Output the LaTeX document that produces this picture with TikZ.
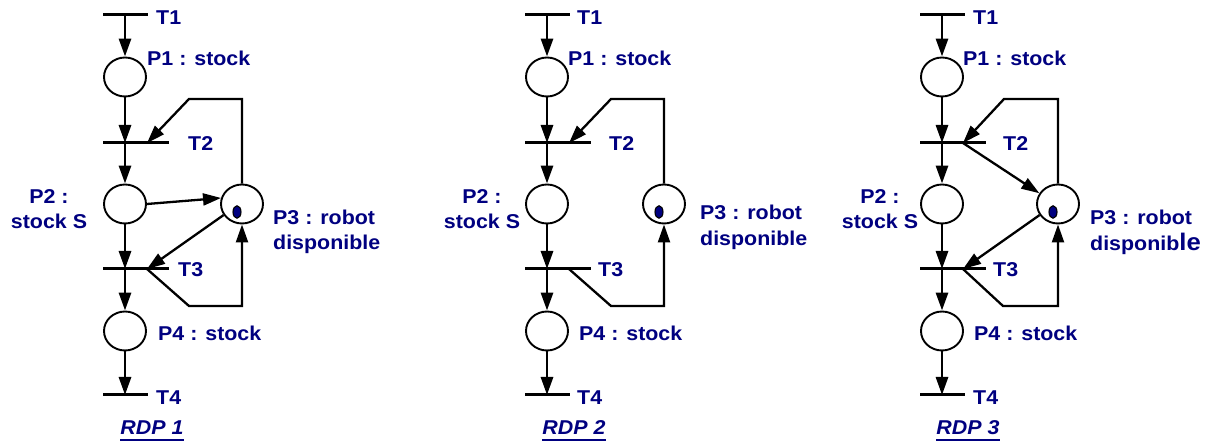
\documentclass[tikz,border=0pt]{standalone}
\usepackage{fontspec}
\setmainfont{Liberation Sans}[FakeStretch=1.07]
\usetikzlibrary{arrows.meta,shapes.geometric}
\definecolor{rdpblue}{RGB}{0,0,128}
\newcommand\lbfont{\fontsize{20}{25}\selectfont\bfseries}
\tikzset{
  place/.style={ellipse, draw, line width=1.9pt, minimum width=42pt, minimum height=39pt, inner sep=0pt},
  token/.style={ellipse, draw=black, line width=1.1pt, fill=rdpblue, minimum width=8pt, minimum height=12.5pt, inner sep=0pt},
  trans/.style={rectangle, fill=black, minimum height=3pt, inner sep=0pt},
  arr/.style={line width=2.9pt, -{Triangle[length=18pt,width=12pt]}},
  sarr/.style={line width=2.3pt, -{Triangle[length=18pt,width=12pt]}},
  lbl/.style={text=rdpblue, font=\lbfont, inner sep=0pt},
  uline/.style={draw=rdpblue, line width=1.8pt}
}
\begin{document}
\begin{tikzpicture}[x=1pt,y=-1pt]
\useasboundingbox (0,0) rectangle (1210,443);

% ---------------- RDP 1 ----------------
\begin{scope}[xshift=125pt]
\node[trans, minimum width=45pt] (aT1) at (0,15) {};
\node[trans, minimum width=66pt] (aT2) at (11,143) {};
\node[trans, minimum width=66pt] (aT3) at (11,269) {};
\node[trans, minimum width=45pt] (aT4) at (0,395) {};
\node[place] (aP1) at (0,77) {};
\node[place] (aP2) at (0,204) {};
\node[place] (aP4) at (0,331) {};
\node[place] (aP3) at (117,204) {};
\node[token] (aK) at (112,212) {};
\coordinate (aJ2) at (22,143);
\coordinate (aJ3) at (22,269);
\coordinate (aU) at (64,99);
\coordinate (aD) at (64,306);
\draw[arr] (aT1.center) -- (aP1);
\draw[arr] (aP1) -- (aP1 |- aT2.center);
\draw[arr] (aP1 |- aT2.center) -- (aP2);
\draw[arr] (aP2) -- (aP2 |- aT3.center);
\draw[arr] (aP2 |- aT3.center) -- (aP4);
\draw[arr] (aP4) -- (aP4 |- aT4.center);
\draw[sarr] (aP3.north) |- (aU) -- (aJ2);
\draw[sarr] (aP2.east) -- (aP3.164);
\draw[sarr] (aP3.211) -- (aJ3);
\draw[sarr] (aJ3) -- (aD) -| (aP3.south);
\node[lbl, anchor=base west] (aL1) at (31,25) {T1};
\node[lbl, anchor=base west] (aL2) at (63,151) {T2};
\node[lbl, anchor=base west] (aL3) at (53,277) {T3};
\node[lbl, anchor=base west] (aL4) at (31,404) {T4};
\node[lbl, anchor=base west] (aN1) at (22,66) {P1 : stock};
\node[lbl, anchor=base west] (aN4) at (33,341) {P4 : stock};
\node[lbl, anchor=base] (aN2a) at (-76,204) {P2 :};
\node[lbl, anchor=base] (aN2b) at (-76,229) {stock S};
\node[lbl, anchor=base west] (aN3a) at (148,225) {P3 : robot};
\node[lbl, anchor=base west] (aN3b) at (148,250) {disponible};
\node[lbl, anchor=base] (aR) at (27,435) {\itshape RDP 1};
\draw[uline] ([yshift=-5pt]aR.base west) -- ([yshift=-5pt]aR.base east);
\end{scope}

% ---------------- RDP 2 ----------------
\begin{scope}[xshift=547pt]
\node[trans, minimum width=45pt] (bT1) at (0,15) {};
\node[trans, minimum width=66pt] (bT2) at (11,143) {};
\node[trans, minimum width=66pt] (bT3) at (11,269) {};
\node[trans, minimum width=45pt] (bT4) at (0,395) {};
\node[place] (bP1) at (0,77) {};
\node[place] (bP2) at (0,204) {};
\node[place] (bP4) at (0,331) {};
\node[place] (bP3) at (117,204) {};
\node[token] (bK) at (112,212) {};
\coordinate (bJ2) at (22,143);
\coordinate (bJ3) at (22,269);
\coordinate (bU) at (64,99);
\coordinate (bD) at (64,306);
\draw[arr] (bT1.center) -- (bP1);
\draw[arr] (bP1) -- (bP1 |- bT2.center);
\draw[arr] (bP1 |- bT2.center) -- (bP2);
\draw[arr] (bP2) -- (bP2 |- bT3.center);
\draw[arr] (bP2 |- bT3.center) -- (bP4);
\draw[arr] (bP4) -- (bP4 |- bT4.center);
\draw[sarr] (bP3.north) |- (bU) -- (bJ2);
\draw[sarr] (bJ3) -- (bD) -| (bP3.south);
\node[lbl, anchor=base west] (bL1) at (30,25) {T1};
\node[lbl, anchor=base west] (bL2) at (62,151) {T2};
\node[lbl, anchor=base west] (bL3) at (51,277) {T3};
\node[lbl, anchor=base west] (bL4) at (30,404) {T4};
\node[lbl, anchor=base west] (bN1) at (21,66) {P1 : stock};
\node[lbl, anchor=base west] (bN4) at (32,341) {P4 : stock};
\node[lbl, anchor=base] (bN2a) at (-65,204) {P2 :};
\node[lbl, anchor=base] (bN2b) at (-65,229) {stock S};
\node[lbl, anchor=base west] (bN3a) at (153,220) {P3 : robot};
\node[lbl, anchor=base west] (bN3b) at (153,246) {disponible};
\node[lbl, anchor=base] (bR) at (27,435) {\itshape RDP 2};
\draw[uline] ([yshift=-5pt]bR.base west) -- ([yshift=-5pt]bR.base east);
\end{scope}

% ---------------- RDP 3 ----------------
\begin{scope}[xshift=942pt]
\node[trans, minimum width=45pt] (cT1) at (0,15) {};
\node[trans, minimum width=66pt] (cT2) at (11,143) {};
\node[trans, minimum width=66pt] (cT3) at (11,269) {};
\node[trans, minimum width=45pt] (cT4) at (0,395) {};
\node[place] (cP1) at (0,77) {};
\node[place] (cP2) at (0,204) {};
\node[place] (cP4) at (0,331) {};
\node[place] (cP3) at (116,204) {};
\node[token] (cK) at (111,212) {};
\coordinate (cJ2) at (21,143);
\coordinate (cJ3) at (21,269);
\coordinate (cU) at (62,99);
\coordinate (cD) at (61,306);
\draw[arr] (cT1.center) -- (cP1);
\draw[arr] (cP1) -- (cP1 |- cT2.center);
\draw[arr] (cP1 |- cT2.center) -- (cP2);
\draw[arr] (cP2) -- (cP2 |- cT3.center);
\draw[arr] (cP2 |- cT3.center) -- (cP4);
\draw[arr] (cP4) -- (cP4 |- cT4.center);
\draw[sarr] (cP3.north) |- (cU) -- (cJ2);
\draw[sarr] (cJ2) -- (cP3.150);
\draw[sarr] (cP3.211) -- (cJ3);
\draw[sarr] (cJ3) -- (cD) -| (cP3.south);
\node[lbl, anchor=base west] (cL1) at (31,25) {T1};
\node[lbl, anchor=base west] (cL2) at (61,151) {T2};
\node[lbl, anchor=base west] (cL3) at (51,277) {T3};
\node[lbl, anchor=base west] (cL4) at (31,404) {T4};
\node[lbl, anchor=base west] (cN1) at (21,66) {P1 : stock};
\node[lbl, anchor=base west] (cN4) at (32,341) {P4 : stock};
\node[lbl, anchor=base] (cN2a) at (-62,204) {P2 :};
\node[lbl, anchor=base] (cN2b) at (-62,229) {stock S};
\node[lbl, anchor=base west] (cN3a) at (148,225) {P3 : robot};
\node[lbl, anchor=base west] (cN3b) at (148,251) {disponib{\fontsize{24}{25}\selectfont le}};
\node[lbl, anchor=base] (cR) at (26,435) {\itshape RDP 3};
\draw[uline] ([yshift=-5pt]cR.base west) -- ([yshift=-5pt]cR.base east);
\end{scope}
\end{tikzpicture}
\end{document}
